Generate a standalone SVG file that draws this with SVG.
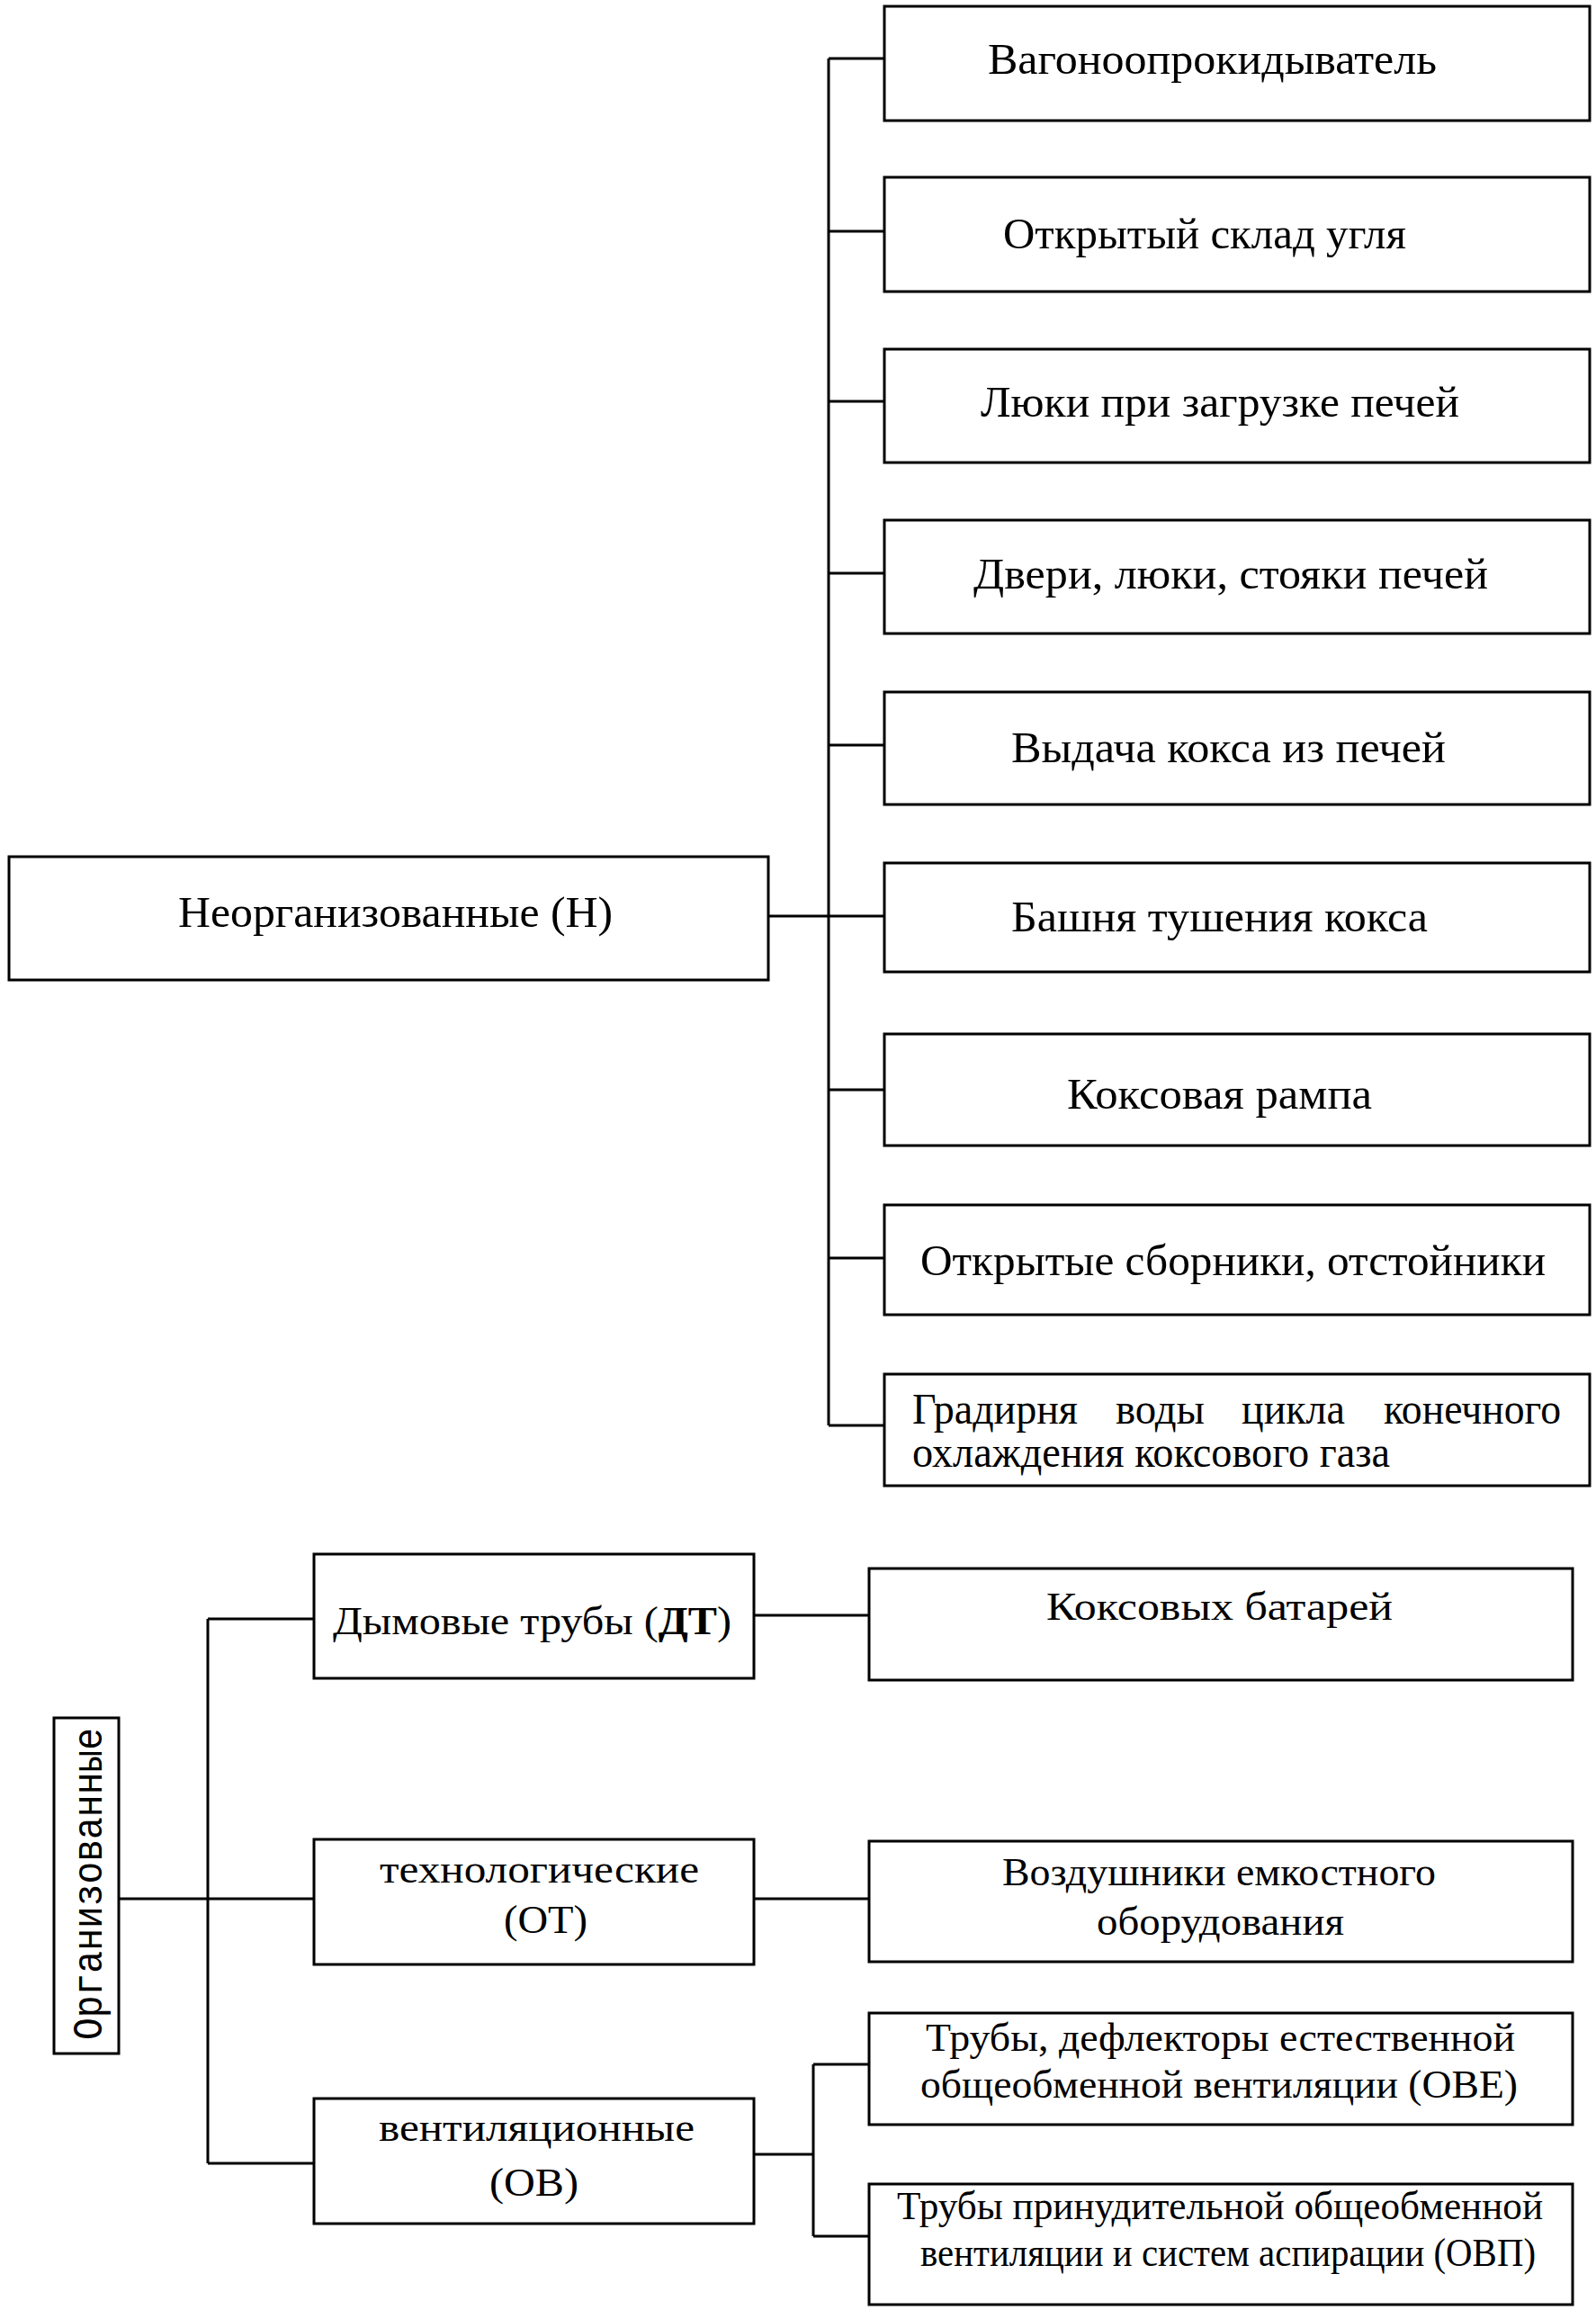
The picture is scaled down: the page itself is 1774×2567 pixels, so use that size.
<svg xmlns="http://www.w3.org/2000/svg" width="1774" height="2567" viewBox="0 0 1774 2567">
<style>
.box{fill:#fff;stroke:#000;stroke-width:3}
.ln{fill:none;stroke:#000;stroke-width:3}
text{font-family:"Liberation Serif","Times New Roman",serif;font-size:48px;fill:#000}
.sm{font-size:44px}
.mono{font-family:"Liberation Mono","Courier New",monospace;font-size:46px}
</style>
<rect width="1774" height="2567" fill="#fff"/>
<g id="connectors">
<path class="ln" d="M854 1018H921M921 65V1584M921 65H983M921 257H983M921 446H983M921 637H983M921 828H983M921 1018H983M921 1211H983M921 1398H983M921 1584H983"/>
<path class="ln" d="M131 2110H349M231 1799V2404M231 1799H349M231 2404H349M838 1795H966M838 2110H966M838 2394H904M904 2294V2485M904 2294H966M904 2485H966"/>
</g>
<g id="n-neorg"><rect class="box" x="10" y="952" width="844" height="137"/><text x="198" y="1030" textLength="483" lengthAdjust="spacingAndGlyphs">Неорганизованные (Н)</text></g>
<g id="n1"><rect class="box" x="983" y="7" width="784" height="127"/><text x="1098" y="82" textLength="499" lengthAdjust="spacingAndGlyphs">Вагоноопрокидыватель</text></g>
<g id="n2"><rect class="box" x="983" y="197" width="784" height="127"/><text x="1115" y="276" textLength="448" lengthAdjust="spacingAndGlyphs">Открытый склад угля</text></g>
<g id="n3"><rect class="box" x="983" y="388" width="784" height="126"/><text x="1090" y="463" textLength="532" lengthAdjust="spacingAndGlyphs">Люки при загрузке печей</text></g>
<g id="n4"><rect class="box" x="983" y="578" width="784" height="126"/><text x="1082" y="654" textLength="572" lengthAdjust="spacingAndGlyphs">Двери, люки, стояки печей</text></g>
<g id="n5"><rect class="box" x="983" y="769" width="784" height="125"/><text x="1124" y="847" textLength="483" lengthAdjust="spacingAndGlyphs">Выдача кокса из печей</text></g>
<g id="n6"><rect class="box" x="983" y="959" width="784" height="121"/><text x="1124" y="1035" textLength="463" lengthAdjust="spacingAndGlyphs">Башня тушения кокса</text></g>
<g id="n7"><rect class="box" x="983" y="1149" width="784" height="124"/><text x="1186" y="1232" textLength="339" lengthAdjust="spacingAndGlyphs">Коксовая рампа</text></g>
<g id="n8"><rect class="box" x="983" y="1339" width="784" height="122"/><text x="1023" y="1417" textLength="695" lengthAdjust="spacingAndGlyphs">Открытые сборники, отстойники</text></g>
<g id="n9"><rect class="box" x="983" y="1527" width="784" height="124"/>
<text x="1014" y="1582" textLength="184" lengthAdjust="spacingAndGlyphs">Градирня</text>
<text x="1240" y="1582" textLength="99" lengthAdjust="spacingAndGlyphs">воды</text>
<text x="1380" y="1582" textLength="115" lengthAdjust="spacingAndGlyphs">цикла</text>
<text x="1538" y="1582" textLength="197" lengthAdjust="spacingAndGlyphs">конечного</text>
<text x="1014" y="1630" textLength="531" lengthAdjust="spacingAndGlyphs">охлаждения коксового газа</text></g>
<g id="n-org"><rect class="box" x="60" y="1909" width="72" height="373"/><text class="mono" transform="translate(113 2267) rotate(-90)" x="0" y="0" textLength="347" lengthAdjust="spacingAndGlyphs">Организованные</text></g>
<g id="n-dt"><rect class="box" x="349" y="1727" width="489" height="138"/><text class="sm" x="370" y="1816" textLength="443" lengthAdjust="spacingAndGlyphs">Дымовые трубы (<tspan font-weight="bold">ДТ</tspan>)</text></g>
<g id="n-ot"><rect class="box" x="349" y="2044" width="489" height="139"/><text class="sm" x="422" y="2092" textLength="355" lengthAdjust="spacingAndGlyphs">технологические</text><text class="sm" x="560" y="2148" textLength="93" lengthAdjust="spacingAndGlyphs">(ОТ)</text></g>
<g id="n-ov"><rect class="box" x="349" y="2332" width="489" height="139"/><text class="sm" x="421" y="2379" textLength="351" lengthAdjust="spacingAndGlyphs">вентиляционные</text><text class="sm" x="544" y="2440" textLength="99" lengthAdjust="spacingAndGlyphs">(ОВ)</text></g>
<g id="n-kb"><rect class="box" x="966" y="1743" width="782" height="124"/><text class="sm" x="1163" y="1800" textLength="385" lengthAdjust="spacingAndGlyphs">Коксовых батарей</text></g>
<g id="n-veo"><rect class="box" x="966" y="2046" width="782" height="134"/><text class="sm" x="1114" y="2095" textLength="482" lengthAdjust="spacingAndGlyphs">Воздушники емкостного</text><text class="sm" x="1219" y="2150" textLength="275" lengthAdjust="spacingAndGlyphs">оборудования</text></g>
<g id="n-ove"><rect class="box" x="966" y="2237" width="782" height="124"/><text class="sm" x="1029" y="2279" textLength="655" lengthAdjust="spacingAndGlyphs">Трубы, дефлекторы естественной</text><text class="sm" x="1023" y="2331" textLength="664" lengthAdjust="spacingAndGlyphs">общеобменной вентиляции (ОВЕ)</text></g>
<g id="n-ovp"><rect class="box" x="966" y="2427" width="782" height="134"/><text class="sm" x="997" y="2466" textLength="718" lengthAdjust="spacingAndGlyphs">Трубы принудительной  общеобменной</text><text class="sm" x="1023" y="2518" textLength="684" lengthAdjust="spacingAndGlyphs">вентиляции и систем аспирации (ОВП)</text></g>
</svg>
